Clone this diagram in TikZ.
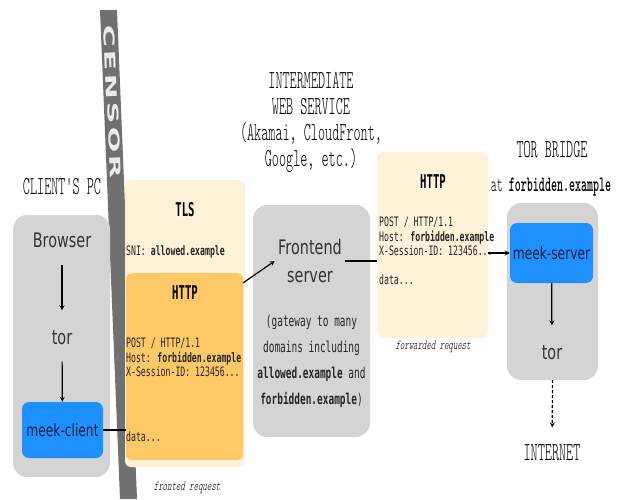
\documentclass[tikz,border=0pt]{standalone}
\usepackage{fontspec}
\usepackage{xcolor}
\usepackage{tikz}

\newfontfamily\hdfont{lmmonolt10}[Extension=.otf, UprightFont=*-regular, BoldFont=*-bold, FakeStretch=0.52]
\newfontfamily\notefont{lmmonolt10}[Extension=.otf, UprightFont=*-regular, BoldFont=*-bold, FakeStretch=0.6, FakeSlant=0.2]
\newfontfamily\condsans{DejaVu Sans}[FakeStretch=0.72]
\newfontfamily\bodymono{DejaVu Sans Mono}[FakeStretch=0.63]
\newfontfamily\headmono{DejaVu Sans Mono}[FakeStretch=0.56]
\newfontfamily\censorfont{DejaVu Sans}[FakeStretch=2.0, LetterSpace=20]

\definecolor{boxgray}{RGB}{212,212,212}
\definecolor{meekblue}{RGB}{30,144,255}
\definecolor{meektext}{RGB}{20,30,60}
\definecolor{tlscream}{RGB}{253,241,216}
\definecolor{httporange}{RGB}{254,200,102}
\definecolor{censorgray}{RGB}{112,112,112}

\begin{document}
\begin{tikzpicture}[x=1pt, y=-1pt, >=stealth,
  graybox/.style={fill=boxgray, rounded corners=14pt, inner sep=0pt},
  bluebox/.style={fill=meekblue, rounded corners=7pt, inner sep=0pt, text=meektext,
    font=\condsans\fontsize{17}{20}\selectfont},
  creambox/.style={fill=tlscream, rounded corners=6pt, inner sep=0pt},
  orangebox/.style={fill=httporange, rounded corners=6pt, inner sep=0pt},
  heading/.style={font=\hdfont\fontsize{26}{26}\selectfont, align=center},
  proc/.style={font=\condsans\fontsize{20}{28}\selectfont, align=center, text=black!80},
  proto/.style={font=\headmono\bfseries\fontsize{19}{20}\selectfont},
  msg/.style={font=\bodymono\fontsize{13}{14.5}\selectfont, align=left, anchor=west,
    inner sep=0pt, text=black!85},
  note/.style={font=\notefont\fontsize{14}{16}\selectfont},
  link/.style={line width=1.2pt, black}]
 \useasboundingbox (0,0) rectangle (618,499);

 % censor
 \fill[censorgray] (100,10) -- (117,10) -- (137,499) -- (120,499) -- cycle;
 \node[rotate=-87.7, text=white!92!black, font=\censorfont\bfseries\fontsize{15}{15}\selectfont]
   (censor) at (112.5,102) {CENSOR};

 % client
 \node[heading] (clienthd) at (62,187) {CLIENT'S PC};
 \node[graybox, minimum width=97, minimum height=262] (client) at (61.5,346) {};
 \node[proc] (browser) at (62,240) {Browser};
 \node[proc] (ctor) at (62,338) {tor};
 \node[bluebox, minimum width=81, minimum height=56] (mclient) at (62.5,430) {meek-client};

 % fronted request
 \node[creambox, minimum width=120, minimum height=287] (tls) at (185,323.5) {};
 \node[orangebox, minimum width=117, minimum height=187] (http1) at (184.5,366.5) {};
 \node[proto] (tlshd) at (185,210) {TLS};
 \node[msg] (sni) at (126,252) {SNI: \textbf{allowed.example}};
 \node[proto] (http1hd) at (185,293) {HTTP};
 \node[msg] (req1) at (126,357.5) {POST / HTTP/1.1\\Host: \textbf{forbidden.example}\\X-Session-ID: 123456...};
 \node[msg] (data1) at (126,437) {data...};
 \node[note] (frontnote) at (187,488) {fronted request};

 % web service
 \node[heading] (webhd) at (311,122) {INTERMEDIATE\\WEB SERVICE\\(Akamai, CloudFront,\\Google, etc.)};
 \node[graybox, minimum width=117, minimum height=232] (frontbox) at (311.5,321) {};
 \node[proc] (front) at (310,261) {Frontend\\server};
 \node[font=\bodymono\fontsize{15}{26}\selectfont, align=center, text=black!85] (gateway) at (311.5,361)
   {(gateway to many\\domains including\\\textbf{allowed.example} and\\\textbf{forbidden.example})};

 % forwarded request
 \node[creambox, minimum width=111, minimum height=186] (http2) at (432.5,245) {};
 \node[proto] (http2hd) at (433,182) {HTTP};
 \node[msg] (req2) at (379,236.5) {POST / HTTP/1.1\\Host: \textbf{forbidden.example}\\X-Session-ID: 123456...};
 \node[msg] (data2) at (379,280) {data...};
 \node[note] (fwdnote) at (433,347) {forwarded request};

 % bridge
 \node[heading] (bridgehd) at (552,150) {TOR BRIDGE};
 \node[heading, font=\hdfont\fontsize{22}{22}\selectfont] (bridgeat) at (551,187) {at \textbf{forbidden.example}};
 \node[graybox, minimum width=91, minimum height=177] (bridge) at (552.5,291.5) {};
 \node[bluebox, minimum width=83, minimum height=60] (mserver) at (551.5,253) {meek-server};
 \node[proc] (btor) at (552,353) {tor};
 \node[heading] (internet) at (552,453) {INTERNET};

 \draw[->, link, shorten <=14pt, shorten >=17pt] (browser) -- (ctor);
 \draw[->, link, shorten <=13pt] (ctor) -- (mclient);
 \draw[link] (mclient.east) -- (http1.west |- mclient.east);
 \draw[->, link] ([yshift=-10pt]http1.north east) -- (front.west);
 \draw[link] (front.east) -- (http2.west |- front.east);
 \draw[->, link] (http2.east |- mserver) -- (mserver);
 \draw[->, link, shorten >=17pt] (mserver) -- (btor);
 \draw[->, link, densely dashed, shorten >=14pt] (bridge.south) -- (internet);
\end{tikzpicture}
\end{document}
